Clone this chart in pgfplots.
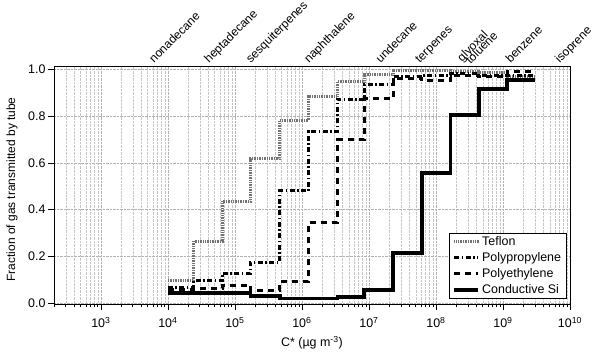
\documentclass[border=0pt]{standalone}
\usepackage{pgfplots}
\usepackage{pgfplotstable}
\usepackage{fontspec}
\setmainfont{Liberation Sans}
\pgfplotsset{compat=1.18}

% step levels: value holds from x to the next x
\pgfplotstableread{
x        teflon  pp     pe     si
1e4      0.097   0.068  0.060  0.045
2.45e4   0.266   0.097  0.064  0.045
6.46e4   0.437   0.128  0.078  0.045
1.70e5   0.617   0.175  0.054  0.031
4.68e5   0.779   0.481  0.092  0.020
1.26e6   0.883   0.733  0.346  0.020
3.39e6   0.947   0.872  0.698  0.027
8.51e6   0.976   0.933  0.876  0.057
2.29e7   0.996   0.971  0.962  0.214
6.17e7   0.996   0.975  0.950  0.556
1.66e8   0.992   0.980  0.975  0.805
4.37e8   0.985   0.975  0.970  0.915
1.15e9   0.967   0.975  0.990  0.954
3.02e9   0.967   0.975  0.990  0.954
}\tubedata

\definecolor{teflongray}{RGB}{115,115,115}

\begin{document}
\begin{tikzpicture}[font=\fontsize{12.5}{14}\selectfont]
\begin{axis}[
    name=ax,
    scale only axis,
    width=516bp, height=237.3bp,
    xmode=log,
    xmin=200, xmax=1e10,
    ymin=-0.003, ymax=1.011,
    clip=false,
    tick pos=left,
    tick align=outside,
    major tick length=6bp,
    minor tick length=3bp,
    xtick={1e3,1e4,1e5,1e6,1e7,1e8,1e9,1e10},
    xticklabels={10\textsuperscript{3},10\textsuperscript{4},10\textsuperscript{5},10\textsuperscript{6},10\textsuperscript{7},10\textsuperscript{8},10\textsuperscript{9},10\textsuperscript{10}},
    minor xtick={2e2,3e2,4e2,5e2,6e2,7e2,8e2,9e2,
        2e3,3e3,4e3,5e3,6e3,7e3,8e3,9e3,
        2e4,3e4,4e4,5e4,6e4,7e4,8e4,9e4,
        2e5,3e5,4e5,5e5,6e5,7e5,8e5,9e5,
        2e6,3e6,4e6,5e6,6e6,7e6,8e6,9e6,
        2e7,3e7,4e7,5e7,6e7,7e7,8e7,9e7,
        2e8,3e8,4e8,5e8,6e8,7e8,8e8,9e8,
        2e9,3e9,4e9,5e9,6e9,7e9,8e9,9e9},
    ytick={0,0.2,0.4,0.6,0.8,1},
    yticklabels={0.0,0.2,0.4,0.6,0.8,1.0},
    xticklabel style={yshift=-4bp},
    yticklabel style={xshift=1bp},
    xmajorgrids, xminorgrids, ymajorgrids,
    major grid style={densely dotted, gray!60, line width=0.5bp},
    minor grid style={densely dotted, gray!45, line width=0.5bp},
    axis line style={line width=0.8bp},
    every tick/.style={black, line width=0.7bp},
    xlabel={C* (µg m\textsuperscript{-3})},
    ylabel={Fraction of gas transmitted by tube},
    xlabel style={at={(axis description cs:0.5,-0.164)}, anchor=center},
    ylabel style={at={(axis description cs:-0.0814,0.483)}, anchor=center,
        font=\fontsize{12}{14}\selectfont},
    const plot,
    legend style={at={(axis description cs:1,0)}, anchor=south east,
        xshift=-3bp, yshift=5bp, draw=black, line width=0.8bp,
        inner xsep=3.5bp, inner ysep=1.5bp, row sep=1.5bp,
        font=\fontsize{12.5}{14}\selectfont},
    legend cell align=left,
    legend image code/.code={\draw[#1] (0bp,0bp) -- (24bp,0bp);},
]
\addplot[teflongray, line width=3bp, dash pattern=on 1bp off 0.7bp] table[x=x, y=teflon] {\tubedata};
\addplot[black, line width=3bp, dash pattern=on 5bp off 2.5bp on 1.5bp off 2.5bp] table[x=x, y=pp] {\tubedata};
\addplot[black, line width=3bp, dash pattern=on 6bp off 5bp] table[x=x, y=pe] {\tubedata};
\addplot[black, line width=3.5bp] table[x=x, y=si] {\tubedata};
\legend{Teflon, Polypropylene, Polyethylene, Conductive Si}

% compound names along the top
\begin{scope}[every node/.style={rotate=45, anchor=base west, inner sep=0pt, font=\fontsize{12}{14}\selectfont}]
\node at (axis cs:6.2e3,1.024) {nonadecane};
\node at (axis cs:4.1e4,1.024) {heptadecane};
\node at (axis cs:1.72e5,1.024) {sesquiterpenes};
\node at (axis cs:1.27e6,1.024) {naphthalene};
\node at (axis cs:1.49e7,1.024) {undecane};
\node at (axis cs:5.74e7,1.024) {terpenes};
\node at (axis cs:2.45e8,1.03) {glyoxal};
\node at (axis cs:3.27e8,1.02) {toluene};
\node at (axis cs:1.29e9,1.024) {benzene};
\node at (axis cs:7.0e9,1.024) {isoprene};
\end{scope}
\end{axis}
\pgfresetboundingbox
\path ([shift={(-54bp,-55bp)}]ax.south west) rectangle ([shift={(30bp,66.7bp)}]ax.north east);
\end{tikzpicture}
\end{document}
